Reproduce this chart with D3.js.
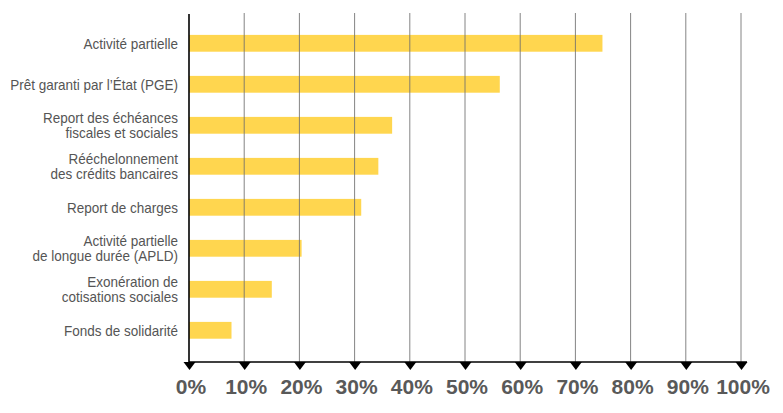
<!DOCTYPE html>
<html><head><meta charset="utf-8">
<script src="https://cdn.jsdelivr.net/npm/d3@7"></script>
<style>
html,body{margin:0;padding:0;background:#fff;}
svg{display:block;}
</style></head>
<body>
<svg id="chart" width="783" height="413"></svg>
<script>
const categories = [
  ["Activité partielle"],
  ["Prêt garanti par l’État (PGE)"],
  ["Report des échéances", "fiscales et sociales"],
  ["Rééchelonnement", "des crédits bancaires"],
  ["Report de charges"],
  ["Activité partielle", "de longue durée (APLD)"],
  ["Exonération de", "cotisations sociales"],
  ["Fonds de solidarité"]
];
const values = [74.9, 56.3, 36.8, 34.3, 31.2, 20.4, 15.0, 7.7];
const tickValues = [0, 10, 20, 30, 40, 50, 60, 70, 80, 90, 100];
const tickLabels = ["0%", "10%", "20%", "30%", "40%", "50%", "60%", "70%", "80%", "90%", "100%"];

const svg = d3.select("#chart");
const x = d3.scaleLinear().domain([0, 100]).range([189, 741]);
const y = d3.scaleBand().domain(d3.range(categories.length)).range([22.8, 350.8]).paddingInner(0.59).paddingOuter(0.295);
const axisY = 362, gridTop = 13;
const fontFam = "'Liberation Sans', Arial, sans-serif";

// bars
svg.append("g").selectAll("rect").data(values).join("rect")
  .attr("x", x(0)).attr("y", (d, i) => y(i))
  .attr("width", d => x(d) - x(0)).attr("height", y.bandwidth())
  .attr("fill", "#ffd64f");

// gridlines
svg.append("g").selectAll("line").data(tickValues.slice(1)).join("line")
  .attr("x1", d => x(d)).attr("x2", d => x(d))
  .attr("y1", gridTop).attr("y2", axisY)
  .attr("stroke", "#6f6f6f").attr("stroke-opacity", 0.85).attr("stroke-width", 1);

// left axis line
svg.append("line").attr("x1", x(0)).attr("x2", x(0)).attr("y1", gridTop + 1).attr("y2", axisY)
  .attr("stroke", "#000").attr("stroke-width", 1.6);

// bottom axis via d3.axisBottom
const xAxis = d3.axisBottom(x).tickValues(tickValues).tickFormat((d, i) => tickLabels[i]).tickSize(0).tickPadding(0);
const gx = svg.append("g").attr("transform", `translate(0,${axisY})`).call(xAxis);
gx.select(".domain").remove();
gx.append("line").attr("x1", x(0)).attr("x2", x(100) + 6).attr("y1", 0).attr("y2", 0)
  .attr("stroke", "#000").attr("stroke-width", 1.5);
gx.selectAll(".tick").append("path").attr("d", "M-6,0 L6,0 L0,8 Z").attr("fill", "#000");
gx.selectAll(".tick text")
  .attr("y", 32).attr("dy", 0).attr("x", 1.5)
  .attr("fill", "#595959")
  .style("font-family", fontFam)
  .style("font-weight", "bold").style("font-size", "21px");

// category labels (horizontally condensed)
const sx = 0.9;
const labels = svg.append("g").attr("transform", `translate(178,0) scale(${sx},1)`);
categories.forEach((lines, i) => {
  const cy = y(i) + y.bandwidth() / 2;
  const lh = 14.7;
  const t = labels.append("text")
    .attr("text-anchor", "end")
    .attr("fill", "#555")
    .style("font-family", fontFam)
    .style("font-size", "15px");
  lines.forEach((ln, j) => {
    t.append("tspan").attr("x", 0)
      .attr("y", cy + 5.5 + (j - (lines.length - 1) / 2) * lh)
      .text(ln);
  });
});
</script>
</body></html>
